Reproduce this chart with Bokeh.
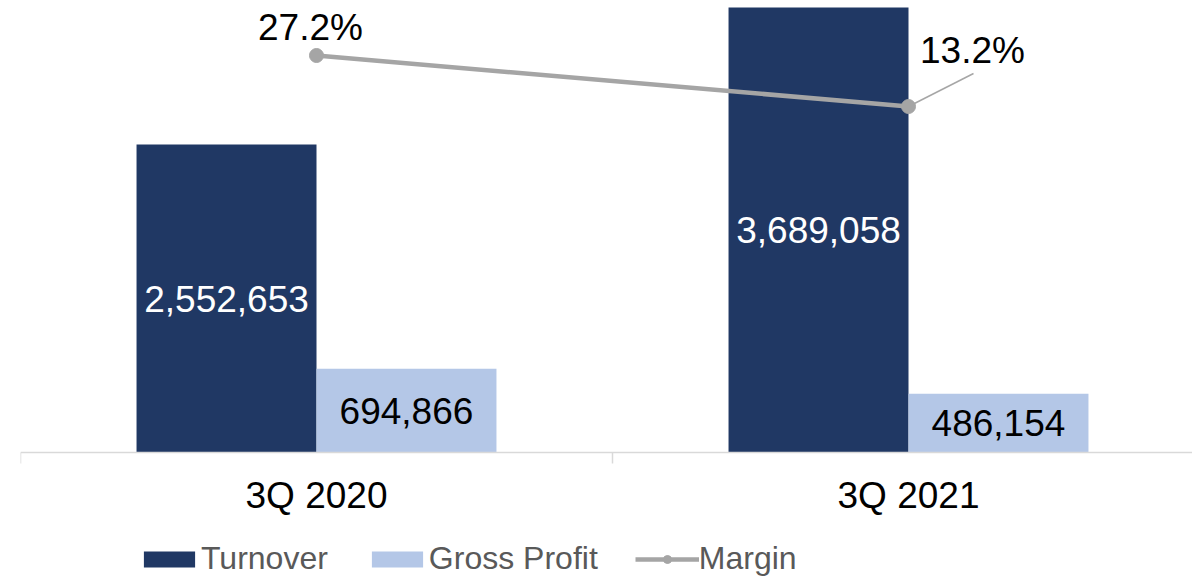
from bokeh.plotting import figure
from bokeh.models import Range1d, Legend, LegendItem, Span
from bokeh.embed import file_html
from bokeh.resources import INLINE
from bokeh.core.properties import value

quarters = ["3Q 2020", "3Q 2021"]
turnover = [2552653, 3689058]
gross_profit = [694866, 486154]
margin = [27.2, 13.2]
margin_labels = ["27.2%", "13.2%"]

NAVY = "#203864"
LIGHT = "#b4c7e7"
GREY = "#a5a5a5"
AXIS = "#d9d9d9"
FONT = "Liberation Sans"

# layout (pixels)
cat_px = 592          # width of one category
frame_w = 1172
frame_h = 578
base_px = 452         # baseline position from top
bar_px = 445          # pixel height of the tallest bar
bar_w = 0.304

xs = [i + 0.5 for i in range(len(quarters))]
x_turn = [x - bar_w / 2 for x in xs]
x_gross = [x + bar_w / 2 for x in xs]

ppu = bar_px / max(turnover)                 # pixels per turnover unit
y_start = -(frame_h - base_px) / ppu
y_end = base_px / ppu

m_px = 51 / (margin[0] - margin[1])          # pixels per margin point
m_zero_px = 55 + margin[0] * m_px            # pixel row of 0 % from top
m_hi = m_zero_px / m_px
m_lo = -(frame_h - m_zero_px) / m_px

p = figure(frame_width=frame_w, frame_height=frame_h,
           x_range=Range1d(0, frame_w / cat_px), y_range=Range1d(y_start, y_end),
           output_backend="svg", toolbar_location=None,
           min_border_left=20, min_border_right=0, min_border_top=0,
           min_border_bottom=0, x_axis_location=None, y_axis_location=None)
p.extra_y_ranges = {"m": Range1d(m_lo, m_hi)}
p.outline_line_color = None
p.grid.visible = False
p.background_fill_color = "white"
p.border_fill_color = "white"

# category axis: baseline, boundary ticks and labels
p.add_layout(Span(location=0, dimension="width", line_color=AXIS, line_width=1.5))
bounds = list(range(len(quarters) + 1))
p.segment(x0=bounds, y0=[0] * len(bounds), x1=bounds, y1=[-11 / ppu] * len(bounds),
          line_color=AXIS, line_width=1.5)
p.text(x=xs, y=[0] * len(xs), text=quarters, y_offset=43,
       text_color="black", text_font=value(FONT), text_font_size="37px",
       text_align="center", text_baseline="middle")

r_turn = p.vbar(x=x_turn, top=turnover, width=bar_w, fill_color=NAVY, line_color=None)
r_gross = p.vbar(x=x_gross, top=gross_profit, width=bar_w, fill_color=LIGHT, line_color=None)

p.text(x=x_turn, y=[t / 2 for t in turnover], text=[f"{t:,}" for t in turnover],
       text_color="white", text_font=value(FONT), text_font_size="37px",
       text_align="center", text_baseline="middle")
p.text(x=x_gross, y=[g / 2 for g in gross_profit], text=[f"{g:,}" for g in gross_profit],
       text_color="black", text_font=value(FONT), text_font_size="37px",
       text_align="center", text_baseline="middle")

p.segment(x0=[xs[1]], y0=[margin[1]], x1=[xs[1] + 65 / cat_px], y1=[margin[1] + 33 / m_px],
          y_range_name="m", line_color="#a6a6a6", line_width=1.5)
r_line = p.line(xs, margin, y_range_name="m", line_color=GREY, line_width=4.5)
r_dot = p.scatter(xs, margin, y_range_name="m", size=14, fill_color=GREY, line_color=GREY)

p.text(x=[xs[0]], y=[margin[0]], text=[margin_labels[0]], y_range_name="m",
       x_offset=-6, y_offset=-28, text_color="black", text_font=value(FONT),
       text_font_size="37px", text_align="center", text_baseline="middle")
p.text(x=[xs[1]], y=[margin[1]], text=[margin_labels[1]], y_range_name="m",
       x_offset=64, y_offset=-56, text_color="black", text_font=value(FONT),
       text_font_size="37px", text_align="center", text_baseline="middle")

legend = Legend(items=[
    LegendItem(label="Turnover", renderers=[r_turn]),
    LegendItem(label="Gross Profit", renderers=[r_gross]),
    LegendItem(label="Margin", renderers=[r_line, r_dot]),
], orientation="horizontal", location=(117, 1))
legend.glyph_width = 64
legend.glyph_height = 20
legend.label_standoff = 0
legend.spacing = 37
legend.padding = 0
legend.margin = 0
legend.border_line_color = None
legend.background_fill_alpha = 0
legend.label_text_font = FONT
legend.label_text_font_size = "32px"
legend.label_text_color = "#595959"
p.add_layout(legend, "center")

open("out.html", "w").write(file_html(p, INLINE))
